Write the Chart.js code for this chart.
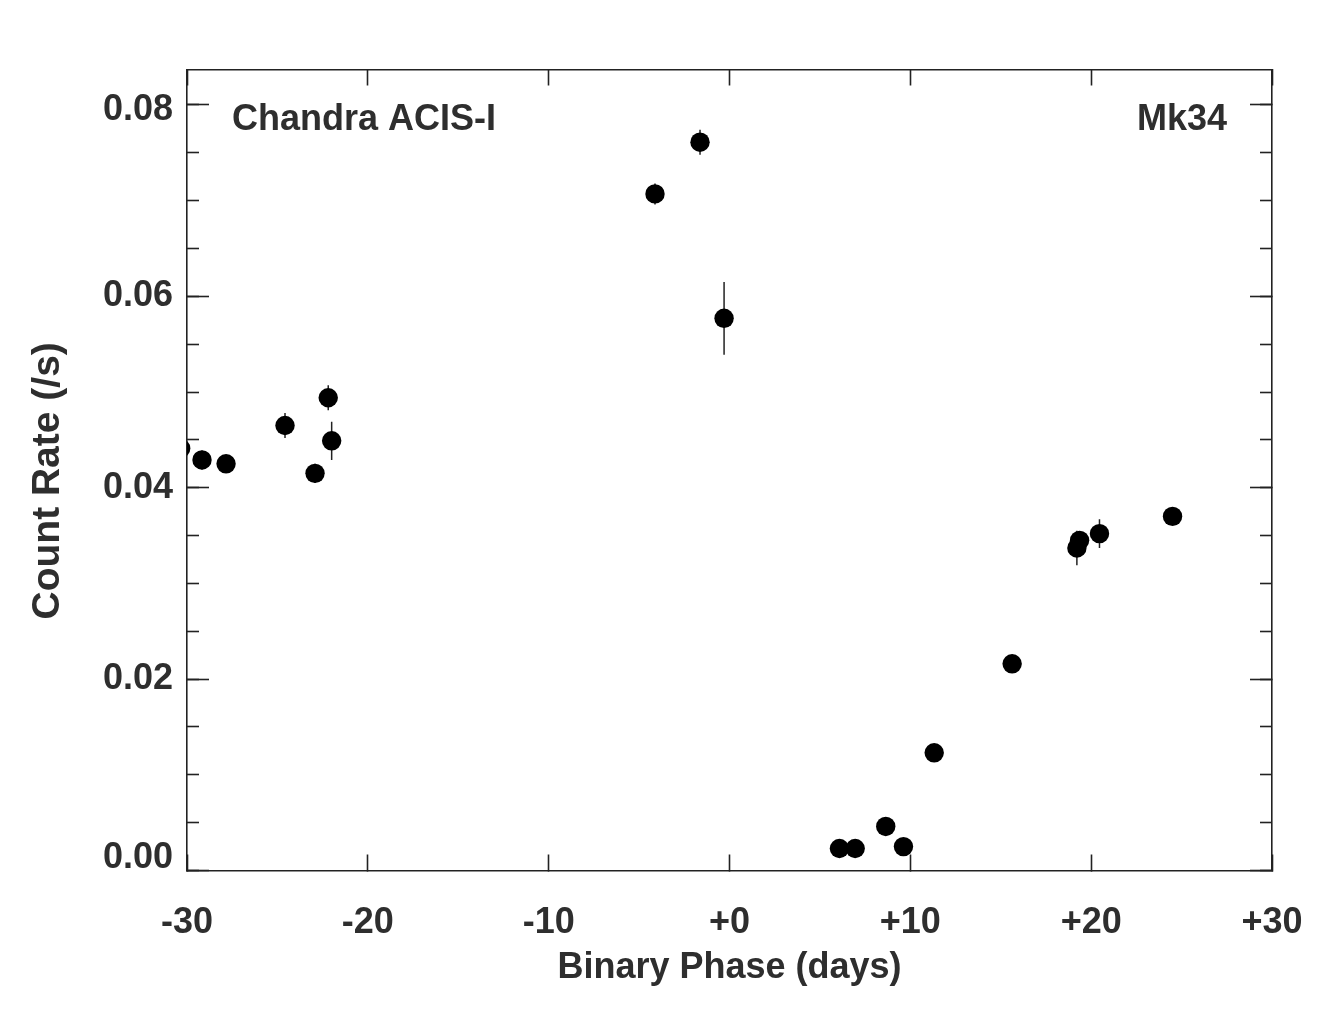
<!DOCTYPE html>
<html>
<head>
<meta charset="utf-8">
<script src="https://cdn.jsdelivr.net/npm/chart.js@4.4.1/dist/chart.umd.min.js"></script>
<style>
html,body{margin:0;padding:0;background:#fff;overflow:hidden;}
#wrap{width:1343px;height:1013px;position:relative;}
canvas{display:block;}
</style>
</head>
<body>
<div id="wrap"><canvas id="c"></canvas></div>
<script>
// ---- data ----
const phase   = [-30.35, -29.17, -27.84, -24.58, -22.92, -22.19, -22.00, -4.12, -1.63, -0.30, 6.08, 6.95, 8.64, 9.62, 11.32, 15.63, 19.21, 19.36, 20.46, 24.50];
const rate    = [0.0441, 0.0429, 0.0425, 0.0465, 0.0415, 0.0494, 0.0449, 0.0707, 0.0761, 0.0577, 0.0023, 0.0023, 0.0046, 0.0025, 0.0123, 0.0216, 0.0337, 0.0345, 0.0352, 0.0370];
const rateErr = [0.0006, 0.0010, 0.0006, 0.0013, 0.0010, 0.0013, 0.0020, 0.0011, 0.0013, 0.0038, 0.0005, 0.0005, 0.0006, 0.0006, 0.0007, 0.0008, 0.0018, 0.0009, 0.0015, 0.0008];

const xTickValues = [-30, -20, -10, 0, 10, 20, 30];
const xTickLabels = ['-30', '-20', '-10', '+0', '+10', '+20', '+30'];
const yTickValues = [0, 0.02, 0.04, 0.06, 0.08];
const yTickLabels = ['0.00', '0.02', '0.04', '0.06', '0.08'];

const xTitle = 'Binary Phase (days)';
const yTitle = 'Count Rate (/s)';
const leftNote = 'Chandra ACIS-I';
const rightNote = 'Mk34';

const xMin = -30, xMax = 30;
const yMin = 0, yMax = 0.0837;

// ---- styling ----
const FONT = '"Liberation Sans", Arial, Helvetica, sans-serif';
const TEXT = '#2e2e2e';
const AXIS = '#222222';
const LW = 1.6;

const points = phase.map((x, i) => ({x: x, y: rate[i]}));
const errSegs = [];
phase.forEach((x, i) => {
  errSegs.push({x: x, y: rate[i] - rateErr[i]});
  errSegs.push({x: x, y: rate[i] + rateErr[i]});
  errSegs.push({x: x, y: null});
});

function xLabel(v) {
  const i = xTickValues.findIndex(t => Math.abs(t - v) < 1e-6);
  return i >= 0 ? xTickLabels[i] : '';
}
function yIndex(v) {
  return yTickValues.findIndex(t => Math.abs(t - v) < 1e-9);
}
function yLabel(v) {
  const i = yIndex(v);
  if (i < 0) return '';
  if (i === 0) return [yTickLabels[i], ''];             // sits just above bottom axis
  if (i === yTickValues.length - 1) return ['', yTickLabels[i]];
  return yTickLabels[i];
}
function yFont(ctx) {
  const i = ctx.tick ? yIndex(ctx.tick.value) : -1;
  let lh = 1.2;
  if (i === 0) lh = '24px';
  else if (i === yTickValues.length - 1) lh = '10px';
  return {family: FONT, size: 36, weight: 'bold', lineHeight: lh};
}

const tickGrid = (len) => ({
  display: true, drawOnChartArea: false, drawTicks: true,
  tickLength: len, tickWidth: LW, tickColor: AXIS
});

function noPad(s) {
  s.paddingLeft = 0; s.paddingRight = 0; s.paddingTop = 0; s.paddingBottom = 0;
}

const notesPlugin = {
  id: 'notes',
  afterDatasetsDraw(chart) {
    const {ctx, chartArea} = chart;
    ctx.save();
    ctx.font = 'bold 36px ' + FONT;
    ctx.fillStyle = TEXT;
    ctx.textBaseline = 'middle';
    ctx.textAlign = 'left';
    ctx.fillText(leftNote, chartArea.left + 45, 120);
    ctx.textAlign = 'right';
    ctx.fillText(rightNote, chartArea.right - 45, 120);
    ctx.restore();
  }
};

new Chart(document.getElementById('c'), {
  type: 'scatter',
  data: {
    datasets: [
      {
        label: 'Mk34',
        data: points,
        pointRadius: 9.7,
        pointHoverRadius: 9.7,
        pointBackgroundColor: '#000',
        pointBorderWidth: 0,
        borderWidth: 0,
        clip: 0
      },
      {
        label: 'errors',
        data: errSegs,
        showLine: true,
        spanGaps: false,
        pointRadius: 0,
        pointHoverRadius: 0,
        borderColor: '#222',
        borderWidth: 1.5,
        clip: 0
      }
    ]
  },
  plugins: [notesPlugin],
  options: {
    responsive: true,
    maintainAspectRatio: false,
    animation: false,
    events: [],
    layout: {padding: 0},
    plugins: {legend: {display: false}, tooltip: {enabled: false}},
    scales: {
      x: {
        type: 'linear', position: 'bottom', min: xMin, max: xMax,
        ticks: {stepSize: 10, includeBounds: false, autoSkip: false, maxRotation: 0,
                padding: 47, color: TEXT, font: {family: FONT, size: 36, weight: 'bold'},
                callback: (v) => xLabel(v)},
        grid: tickGrid(-16),
        border: {display: true, color: AXIS, width: LW},
        title: {display: true, text: xTitle, color: TEXT,
                font: {family: FONT, size: 36, weight: 'bold'}, padding: {top: 0, bottom: 23}},
        afterFit: (s) => { s.height = 142.5; noPad(s); }
      },
      xTop: {
        type: 'linear', position: 'top', min: xMin, max: xMax,
        ticks: {display: false, stepSize: 10, includeBounds: false},
        grid: tickGrid(-16),
        border: {display: true, color: AXIS, width: LW},
        afterFit: (s) => { s.height = 69.5; noPad(s); }
      },
      y: {
        type: 'linear', position: 'left', min: yMin, max: yMax, weight: 10,
        ticks: {stepSize: 0.02, includeBounds: false, autoSkip: false, maxTicksLimit: 100,
                padding: 36, color: TEXT, font: yFont, callback: (v) => yLabel(v)},
        grid: tickGrid(-22),
        border: {display: true, color: AXIS, width: LW},
        title: {display: true, text: yTitle + '  ', color: TEXT,
                font: {family: FONT, size: 39, weight: 'bold'}, padding: {top: 25, bottom: 0}},
        afterFit: (s) => { s.width = 187; noPad(s); }
      },
      yMinorL: {
        type: 'linear', position: 'left', min: yMin, max: yMax, weight: 0,
        ticks: {display: false, stepSize: 0.005, includeBounds: false, maxTicksLimit: 100},
        grid: tickGrid(-12),
        border: {display: false},
        afterFit: (s) => { s.width = 0; noPad(s); }
      },
      yRight: {
        type: 'linear', position: 'right', min: yMin, max: yMax, weight: 10,
        ticks: {display: false, stepSize: 0.02, includeBounds: false, maxTicksLimit: 100},
        grid: tickGrid(-22),
        border: {display: true, color: AXIS, width: LW},
        afterFit: (s) => { s.width = 71; noPad(s); }
      },
      yMinorR: {
        type: 'linear', position: 'right', min: yMin, max: yMax, weight: 0,
        ticks: {display: false, stepSize: 0.005, includeBounds: false, maxTicksLimit: 100},
        grid: tickGrid(-12),
        border: {display: false},
        afterFit: (s) => { s.width = 0; noPad(s); }
      }
    }
  }
});
</script>
</body>
</html>
